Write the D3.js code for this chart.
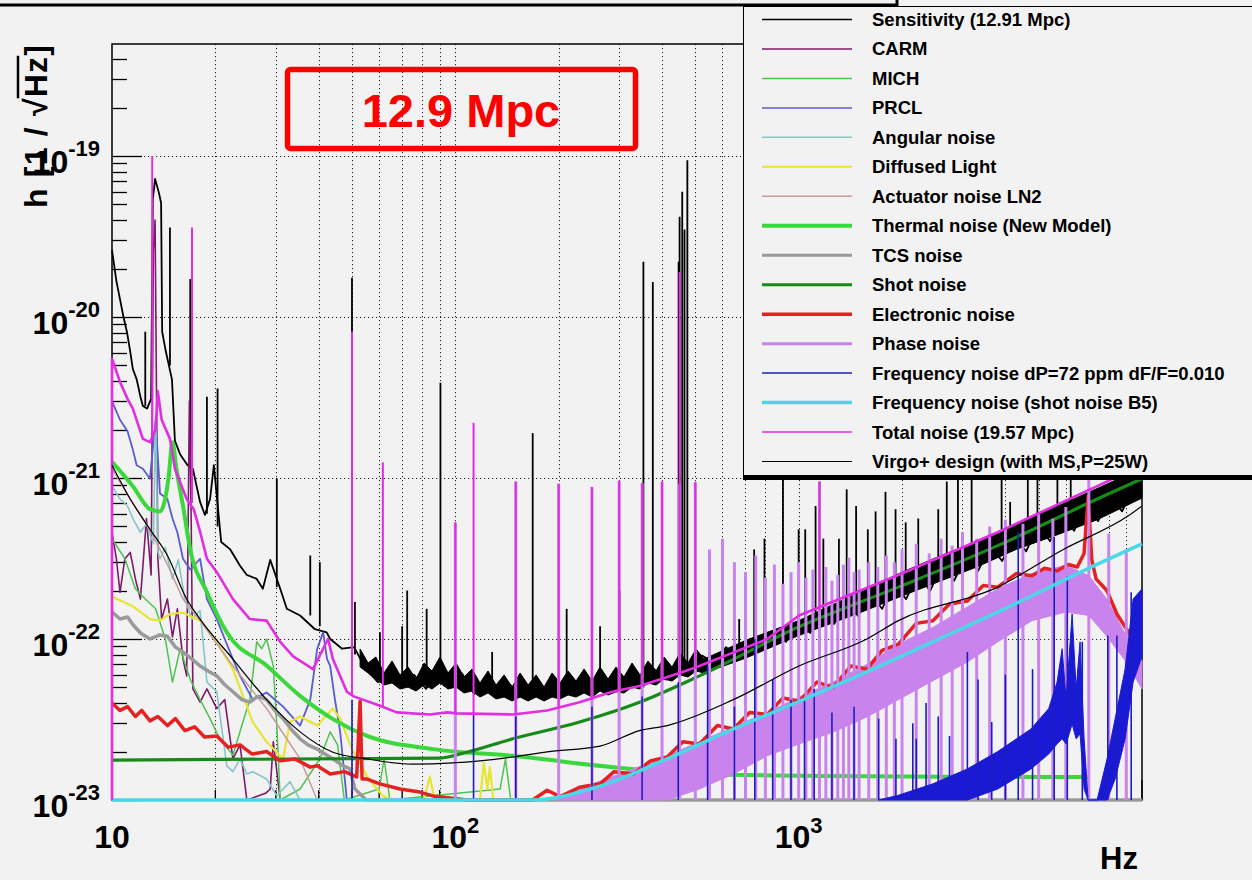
<!DOCTYPE html>
<html>
<head>
<meta charset="utf-8">
<script src="https://cdn.jsdelivr.net/npm/d3@7/dist/d3.min.js"></script>
<style>
html,body{margin:0;padding:0;background:#f2f2f2;overflow:hidden;}
svg{display:block;}
text{font-family:"Liberation Sans",Arial,Helvetica,sans-serif;font-weight:bold;}
</style>
</head>
<body>
<svg id="chart" width="1252" height="880"></svg>
<script>
// ---------------- DATA (frequency in Hz, strain h in 1/sqrt(Hz)) ----------------
const freqDomain = [10, 10000];
const strainDomain = [1e-23, 4.96e-19];
const floorValue = 1e-23;
const yDecadeExps = [-23, -22, -21, -20, -19];
const xDecadeExps = [1, 2, 3];
const xAxisTitle = "Hz";
const yAxisTitle = "h [1 / √Hz]";
const titleText = "12.9 Mpc";

const legendLabels = ["Sensitivity (12.91 Mpc)","CARM","MICH","PRCL","Angular noise","Diffused Light",
  "Actuator noise LN2","Thermal noise (New Model)","TCS noise","Shot noise","Electronic noise","Phase noise",
  "Frequency noise dP=72 ppm dF/F=0.010","Frequency noise (shot noise B5)","Total noise (19.57 Mpc)",
  "Virgo+ design (with MS,P=25W)"];

// measured sensitivity (noisy floor)
const sensitivity = [[10,2.6e-20],[10.3,1.67e-20],[10.55,1.29e-20],[10.8,1.0e-20],[11.05,8.1e-21],[11.3,6.1e-21],[11.5,4.75e-21],[11.8,4.1e-21],[12.1,3.2e-21],[12.3,2.8e-21],[12.65,2.7e-21],[13.0,3.1e-21],[13.15,5.4e-20],[13.35,7.2e-20],[13.5,6.6e-20],[13.7,5.9e-20],[13.9,5.1e-20],[14.0,8.1e-21],[14.35,6.1e-21],[14.95,4.1e-21],[15.25,1.7e-21],[15.8,1.4e-21],[16.6,1.2e-21],[17.2,1.14e-21],[18.05,7.1e-22],[18.65,5.9e-22],[19.3,7.4e-22],[19.8,1.2e-21],[20.8,4.0e-22],[22.1,3.6e-22],[23.6,2.85e-22],[24.7,2.5e-22],[26.4,2.36e-22],[27.5,2.05e-22],[28.9,3.1e-22],[30.9,2.05e-22],[32.3,1.54e-22],[35.3,1.4e-22],[39,1.15e-22],[42.2,1.1e-22],[43.2,1.0e-22],[46.8,8.7e-23],[50.7,8.9e-23],[54.9,6.5e-23],[59.5,5.4e-23],[64.5,5.8e-23],[69.9,5.0e-23],[75.8,6.0e-23],[82.2,4.9e-23],[89.1,6.7e-23],[96.6,5.5e-23],[104.6,6.1e-23],[113.4,4.55e-23],[122.9,5.3e-23],[133.2,4.5e-23],[144.3,5.2e-23],[156.4,4.4e-23],[169.6,5.3e-23],[183.8,4.4e-23],[199.2,5.2e-23],[215.9,4.9e-23],[234,5.6e-23],[253.6,4.75e-23],[274.8,5.6e-23],[297.9,4.9e-23],[322.8,6.0e-23],[349.9,5.2e-23],[379.2,6.5e-23],[411,5.6e-23],[445.5,7.1e-23],[482.8,6.3e-23],[523.3,7.9e-23],[567.2,7.1e-23],[614.6,8.9e-23],[666.2,7.8e-23],[722.1,1.0e-22],[782.5,8.7e-23],[848.2,1.12e-22],[919.1,9.6e-23],[996,1.29e-22],[1080,1.09e-22],[1170,1.49e-22],[1268,1.24e-22],[1375,1.7e-22],[1489,1.39e-22],[1614,1.9e-22],[1750,1.54e-22],[1896,2.2e-22],[2055,1.77e-22],[2228,2.55e-22],[2414,1.99e-22],[2617,2.87e-22],[2836,2.3e-22],[3073,3.3e-22],[3332,2.65e-22],[3610,3.8e-22],[3913,3.05e-22],[4241,4.4e-22],[4597,3.5e-22],[4982,5.1e-22],[5400,4.05e-22],[5852,5.8e-22],[6342,4.7e-22],[6873,6.7e-22],[7450,5.4e-22],[8073,7.7e-22],[8750,6.2e-22],[9484,8.9e-22],[10000,7.95e-22]];
// [freq, upper, lower] dense ragged part of the measured sensitivity
const sensitivityBand = [[52.8,8.67e-23,6.7e-23],[55.7,7.09e-23,6.15e-23],[58.7,7.73e-23,5.64e-23],[62.0,6.15e-23,5.18e-23],[65.4,7.30e-23,5.33e-23],[69.0,5.98e-23,4.89e-23],[72.8,6.70e-23,5.03e-23],[76.8,5.64e-23,4.75e-23],[81.1,7.09e-23,5.18e-23],[85.5,6.33e-23,4.89e-23],[90.2,7.73e-23,5.33e-23],[95.2,6.15e-23,4.89e-23],[100.5,7.09e-23,5.03e-23],[106,5.81e-23,4.62e-23],[111.8,6.51e-23,4.75e-23],[118,5.33e-23,4.36e-23],[124.5,6.33e-23,4.62e-23],[131.4,5.18e-23,4.24e-23],[138.7,5.98e-23,4.36e-23],[146.3,5.03e-23,4.12e-23],[154.4,6.15e-23,4.36e-23],[162.9,5.18e-23,4.12e-23],[171.9,5.98e-23,4.36e-23],[181.3,5.03e-23,4.12e-23],[191.3,6.15e-23,4.36e-23],[201.8,5.33e-23,4.24e-23],[213,6.33e-23,4.49e-23],[224.7,5.48e-23,4.36e-23],[237.1,6.51e-23,4.62e-23],[250.2,5.48e-23,4.36e-23],[263.9,6.70e-23,4.75e-23],[278.5,5.64e-23,4.49e-23],[293.8,6.70e-23,4.7e-23],[310,5.81e-23,4.62e-23],[327.1,7.09e-23,5.03e-23],[345.1,5.98e-23,4.89e-23],[364.1,7.30e-23,5.33e-23],[384.2,6.33e-23,5.18e-23],[405.4,7.73e-23,5.64e-23],[427.7,6.70e-23,5.48e-23],[451.3,8.18e-23,5.98e-23],[476.2,7.09e-23,5.81e-23],[502.4,8.67e-23,6.33e-23],[530.1,7.51e-23,6.15e-23],[700,9.8e-23,7.6e-23],[1000,1.3e-22,1.05e-22],[1500,1.95e-22,1.45e-22],[2000,2.6e-22,1.85e-22],[2600,3.3e-22,2.3e-22],[3300,4.0e-22,2.8e-22],[4300,5.2e-22,3.6e-22],[5600,6.6e-22,4.4e-22],[7400,8.6e-22,5.5e-22],[10000,1.15e-21,7.5e-22]];
// [freq, base, peak] narrow lines of the measured sensitivity
const sensitivityPeaks = [[12.5,2.8e-21,8.1e-21],[14.75,5e-21,3.6e-20],[16.9,1.2e-21,1.72e-20],[18.9,6e-22,3.2e-21],[20.3,5e-22,3.6e-21],[30.2,2.1e-22,9.9e-22],[37.8,1.4e-22,3.3e-22],[40.3,1.2e-22,3.0e-22],[50,9e-23,1.75e-20],[51,8e-23,1.7e-22],[60.3,5.5e-23,1.1e-22],[70,5e-23,1.2e-22],[72.4,5e-23,2.0e-22],[82.5,5e-23,1.54e-22],[90.5,6e-23,3.9e-21],[128,5e-23,8.3e-23],[168,5e-23,1.9e-21],[211,5e-23,1.54e-22],[264,5e-23,1.2e-22],[301,5e-23,2.0e-22],[353,5e-23,2.2e-20],[376,6e-23,1.65e-20],[447,6e-23,2.2e-20],[450,6e-23,4.2e-20],[458,6e-23,6.0e-20],[465,6e-23,3.5e-20],[474,6e-23,9.4e-20],[550,7e-23,1.3e-22],[671,8e-23,1.33e-22],[742,9e-23,3.6e-22],[795,1e-22,4.2e-22],[900,1.1e-22,1.14e-21],[1000,1.2e-22,4.8e-22],[1045,1.3e-22,4.8e-22],[1120,1.4e-22,6.7e-22],[1180,1.5e-22,4.2e-22],[1310,1.6e-22,4.2e-22],[1380,1.7e-22,8.5e-22],[1470,1.8e-22,6.7e-22],[1590,1.9e-22,4.8e-22],[1675,2e-22,6.2e-22],[1790,2.1e-22,8.2e-22],[1915,2.2e-22,6.4e-22],[2050,2.3e-22,5.3e-22],[2230,2.5e-22,5.6e-22],[2550,2.8e-22,6.4e-22],[2700,3e-22,9.5e-22],[2910,3.2e-22,1.1e-21],[3190,3.4e-22,1.1e-21],[3900,4e-22,1.8e-21],[4130,4.2e-22,7.1e-22],[4650,4.6e-22,1.5e-21],[4960,4.8e-22,1.5e-21],[5670,5.5e-22,1.5e-21],[6200,6e-22,1.2e-21]];

const carm = [[10,4.6e-22],[10.3,3.15e-22],[10.55,1.95e-22],[10.9,3.15e-22],[11.3,3.45e-22],[11.7,2.36e-22],[12.1,1.77e-22],[12.6,5.6e-22],[13.0,2.5e-22],[13.2,2.6e-20],[13.35,4.0e-20],[13.6,3.15e-22],[13.95,1.33e-22],[14.5,1.77e-22],[15,1.03e-22],[15.5,1.54e-22],[16.1,7.5e-23],[16.5,5.9e-23],[16.8,3.0e-21],[17.0,6.0e-22],[17.2,4.9e-23],[18.05,4.05e-23],[18.9,4.9e-23],[20.2,3.7e-23],[21.3,4.2e-23],[22.5,1.8e-23],[23.6,2.2e-23],[24.7,1.0e-23],[28.0,1.1e-23],[28.9,1.17e-23],[29.5,2.3e-23],[30.9,1.0e-23],[35,8e-24],[60,8e-24]];

const mich = [[10,4.2e-22],[10.9,3.15e-22],[11.7,2.05e-22],[12.5,1.77e-22],[13.4,1.54e-22],[14.3,1.0e-22],[15.0,5.4e-23],[15.8,8.7e-23],[16.9,5.6e-23],[18.05,4.2e-23],[19.3,3.2e-23],[20.6,2.4e-23],[22.5,1.9e-23],[24,3.0e-23],[25.2,4.2e-23],[26.4,9.6e-23],[27.3,8.7e-23],[28.2,1.0e-22],[29.5,6.8e-23],[30.2,2.9e-23],[30.9,1.0e-23],[35.3,1.17e-23],[40.3,1.8e-23],[43.2,2.65e-23],[45.4,2.2e-23],[47.5,1.0e-23],[60,1.17e-23],[62,1.8e-23],[64.5,1.0e-23],[135,1.17e-23],[140,1.8e-23],[145,1.0e-23],[200,8e-24]];

const prcl = [[10,3.0e-21],[10.55,2.3e-21],[11.1,1.95e-21],[11.5,1.5e-21],[11.8,1.2e-21],[12.3,1.14e-21],[12.9,9.9e-22],[13.4,2.3e-21],[13.8,8.0e-22],[14.5,7.4e-22],[15,5.6e-22],[15.5,4.6e-22],[16.1,3.15e-22],[16.9,2.7e-22],[18.05,3.15e-22],[18.9,1.77e-22],[20.2,1.33e-22],[21.3,1.0e-22],[22.5,7.5e-23],[23.6,5.9e-23],[25.7,4.2e-23],[28.2,4.65e-23],[31.5,3.8e-23],[35.3,2.9e-23],[37.8,4.2e-23],[39.6,8.7e-23],[41.2,1.1e-22],[42.3,7.5e-23],[43.2,6.8e-23],[44.6,4.2e-23],[46.2,2.65e-23],[48.3,1.0e-23],[55,8e-24],[100,8e-24]];

const angular = [[10,8.9e-22],[10.55,7.4e-22],[11.1,6.7e-22],[11.5,5.6e-22],[12.1,4.6e-22],[12.6,5.2e-22],[13.2,3.9e-22],[13.4,2.5e-21],[13.6,3.5e-22],[13.8,3.15e-22],[14.3,3.7e-22],[15,2.36e-22],[15.6,3.1e-22],[16.3,1.77e-22],[17.1,1.33e-22],[18.05,1.5e-22],[18.9,5.4e-23],[20.2,4.7e-23],[21.6,1.63e-23],[22.5,1.5e-23],[23.6,1.8e-23],[24.7,1.45e-23],[25.7,1.5e-23],[28.2,1.35e-23],[30.2,1.06e-23],[33,1.3e-23],[35.3,1.0e-23],[40,8e-24],[100,8e-24]];

const diffusedLight = [[10,1.85e-22],[10.35,1.77e-22],[11.5,1.6e-22],[12.9,1.33e-22],[13.8,1.3e-22],[14.75,1.43e-22],[16.1,1.46e-22],[18.05,1.3e-22],[20.2,9.6e-23],[22.5,6.5e-23],[25.7,3.05e-23],[28.2,2.3e-23],[31.5,1.8e-23],[33,3.05e-23],[35.3,3.3e-23],[39.6,2.9e-23],[44,3.7e-23],[46.2,3.2e-23],[50,2.07e-23],[54,1.56e-23],[55.3,1.4e-23],[61.5,1.06e-23],[66,1.0e-23],[81,1.0e-23],[84.3,1.4e-23],[87,1.0e-23],[118,1.0e-23],[121,1.7e-23],[124,1.17e-23],[126,1.6e-23],[129,1.0e-23],[140,8e-24],[300,8e-24]];

const actuatorLN2 = [[10,1.14e-21],[11.3,7.4e-22],[12.9,4.8e-22],[14.5,2.9e-22],[16.1,1.77e-22],[18.05,1.3e-22],[22.5,6.8e-23],[28.2,3.7e-23],[35.3,1.8e-23],[39.6,1.0e-23],[45,8e-24]];

const thermal = [[10,1.26e-21],[11.5,8.9e-22],[12.9,6.4e-22],[13.8,6.2e-22],[14.3,7.5e-22],[14.6,9.9e-22],[15.0,1.67e-21],[15.4,1.14e-21],[16.1,6.7e-22],[16.9,3.6e-22],[18.9,1.96e-22],[21.6,1.1e-22],[28.3,6.8e-23],[35.3,4.43e-23],[44,3.18e-23],[55.3,2.5e-23],[86,2.07e-23],[147,1.88e-23],[288,1.6e-23],[517,1.45e-23],[1259,1.41e-23],[3900,1.39e-23],[7000,1.39e-23]];

const tcs = [[10,1.47e-22],[10.55,1.33e-22],[11.1,1.37e-22],[11.5,1.23e-22],[12.1,1.09e-22],[12.9,1.0e-22],[13.8,1.06e-22],[14.5,1.04e-22],[15.3,8.9e-23],[16.1,8.3e-23],[17.1,7.5e-23],[18.05,6.8e-23],[19.1,6.3e-23],[20.2,5.9e-23],[21.3,5.2e-23],[22.5,4.7e-23],[23.9,4.2e-23],[25.2,4.05e-23],[26.6,4.4e-23],[28.2,4.2e-23],[29.8,3.6e-23],[31.5,3.2e-23],[33.5,2.7e-23],[35.3,2.4e-23],[37.2,2.2e-23],[39.6,2.07e-23],[41.7,1.93e-23],[44,1.8e-23],[46.7,1.65e-23],[49.3,1.56e-23],[51,1.17e-23],[55,8e-24],[10000,8e-24]];

const shotNoise = [[10,1.77e-23],[90,1.82e-23],[108,1.98e-23],[147,2.4e-23],[230,3.05e-23],[344,4.05e-23],[514,5.9e-23],[1002,1.19e-22],[1952,2.1e-22],[3800,3.8e-22],[7402,7.4e-22],[10000,9.9e-22]];

const electronic = [[10,4.0e-23],[10.55,3.6e-23],[11.1,3.8e-23],[11.7,3.3e-23],[12.2,3.6e-23],[12.9,3.1e-23],[13.6,3.3e-23],[14.5,2.9e-23],[15.3,3.2e-23],[16.3,2.7e-23],[17.4,2.85e-23],[18.6,2.46e-23],[20.2,2.5e-23],[21.8,2.13e-23],[23.6,2.2e-23],[25.6,1.93e-23],[28.2,2.0e-23],[30.9,1.75e-23],[34.1,1.8e-23],[37.8,1.6e-23],[39.6,1.63e-23],[43.2,1.45e-23],[47.6,1.5e-23],[51.6,1.39e-23],[52.8,4.1e-23],[53.5,1.35e-23],[55.3,1.35e-23],[60.3,1.26e-23],[69,1.17e-23],[78.8,1.12e-23],[86,1.06e-23],[108,1.0e-23],[120,8e-24],[150,8e-24],[168,1.0e-23],[185,1.15e-23],[202,1.05e-23],[230,1.2e-23],[264,1.26e-23],[290,1.5e-23],[330,1.45e-23],[370,1.75e-23],[414,1.85e-23],[460,2.3e-23],[514,2.23e-23],[580,2.9e-23],[645,2.76e-23],[720,3.5e-23],[810,3.4e-23],[900,4.3e-23],[1002,4.1e-23],[1130,5.4e-23],[1260,5.0e-23],[1420,6.8e-23],[1580,6.5e-23],[1750,8.5e-23],[1952,9.3e-23],[2200,1.25e-22],[2460,1.3e-22],[2750,1.65e-22],[3100,1.72e-22],[3450,2.15e-22],[3800,2.1e-22],[4300,2.55e-22],[4780,2.47e-22],[5200,2.75e-22],[5670,2.65e-22],[6100,2.9e-22],[6478,2.8e-22],[6780,3.4e-22],[6970,7.7e-22],[7140,3.1e-22],[7350,2.36e-22],[7900,2.0e-22],[8450,1.43e-22],[9300,1.04e-22],[10000,1.0e-22]];

// [freq, upper, lower]
const phaseBand = [[197,1e-23,1e-23],[230,1.17e-23,1e-23],[264,1.31e-23,1e-23],[330,1.56e-23,1e-23],[414,1.88e-23,1e-23],[514,2.3e-23,1.17e-23],[645,2.84e-23,1.45e-23],[810,3.5e-23,1.88e-23],[1002,4.35e-23,2.23e-23],[1260,5.4e-23,2.64e-23],[1580,6.95e-23,3.28e-23],[1952,9.3e-23,4.2e-23],[2460,1.18e-22,5.5e-23],[3100,1.58e-22,7.2e-23],[3800,2.05e-22,9.6e-23],[4780,2.55e-22,1.3e-22],[6000,2.87e-22,1.47e-22],[7000,2.47e-22,1.4e-22],[7900,1.77e-22,1.04e-22],[9000,1.04e-22,7.2e-23],[10000,7.3e-23,4.9e-23]];
const phaseLines = [[100,5.3e-22],[150,9.5e-22],[200,9.2e-22],[250,8.8e-22],[300,9.6e-22],[350,9.3e-22],[400,9.5e-22],[450,9.2e-22],[500,9.4e-22],[550,3.6e-22],[600,4.2e-22],[650,3.0e-22],[700,2.6e-22],[750,3.3e-22],[800,2.4e-22],[850,2.9e-22],[900,2.2e-22],[950,2.6e-22],[1000,3.0e-22],[1050,2.4e-22],[1100,2.7e-22],[1150,9.5e-22],[1200,2.8e-22],[1250,2.3e-22],[1300,2.5e-22],[1350,2.9e-22],[1400,3.2e-22],[1450,2.6e-22],[1500,2.7e-22],[1600,3.0e-22],[1700,2.8e-22],[1800,3.3e-22],[1900,3.0e-22],[2000,3.6e-22],[2200,3.9e-22],[2400,3.4e-22],[2600,4.2e-22],[2800,3.8e-22],[3000,4.6e-22],[3300,4.2e-22],[3600,5.0e-22],[4000,5.5e-22],[4500,5.2e-22],[5000,6.0e-22],[5500,5.6e-22],[6000,6.6e-22],[7000,1.0e-21],[8000,4.5e-22],[9000,3.5e-22]];

const freqDPLines = [[50,4.2e-23],[113,3.5e-23],[150,3.3e-23],[250,3.8e-23],[350,4.4e-23],[446,5.4e-23],[543,6.8e-23],[650,3.8e-23],[745,1.0e-22],[840,5.6e-23],[950,4.2e-23],[1040,4.2e-23],[1110,4.9e-23],[1250,3.5e-23],[1450,3.8e-23],[1710,3.2e-23],[1920,2.4e-23],[2150,3.0e-23],[2200,2.4e-23],[2350,4.0e-23],[2550,3.3e-23],[2750,2.5e-23],[3100,8.3e-23],[3330,5.6e-23],[3650,3.05e-23],[4000,6.0e-23],[4360,4.6e-22],[4800,6.5e-23],[5550,4.3e-22],[6060,2.45e-22],[6700,9.6e-23],[7950,1.05e-22],[8450,1.05e-22],[9300,1.95e-22]];
const freqDPBand = [[1710,1e-23,1e-23],[1952,1.07e-23,1e-23],[2460,1.26e-23,1e-23],[3100,1.56e-23,1e-23],[3800,2.0e-23,1.17e-23],[4750,2.76e-23,1.56e-23],[5350,3.7e-23,1.93e-23],[5658,5.4e-23,2.23e-23],[5853,8.7e-23,2.4e-23],[6011,4.2e-23,2.23e-23],[6258,1.43e-22,2.96e-23],[6430,4.9e-23,2.4e-23],[6601,9.6e-23,2.57e-23],[6782,2.4e-23,1.17e-23],[6966,1e-23,1e-23],[7400,1e-23,1e-23],[7910,1.8e-23,1e-23],[8352,3.2e-23,1.35e-23],[8930,6.5e-23,2.4e-23],[9422,1.77e-22,5.4e-23],[10000,2.05e-22,7.8e-23]];

const freqShotB5 = [[10,4e-24],[150,9.5e-24],[168,1.0e-23],[264,1.22e-23],[414,1.8e-23],[645,2.76e-23],[1010,4.12e-23],[1580,6.24e-23],[2460,9.6e-23],[3800,1.47e-22],[7640,3.0e-22],[10000,3.9e-22]];

const totalNoise = [[10,1e-24],[10,5.5e-21],[10.55,3.95e-21],[11.1,3.1e-21],[11.5,2.7e-21],[12.3,1.75e-21],[12.9,1.67e-21],[13.4,2.0e-21],[13.6,3.45e-21],[13.95,2.3e-21],[14.75,1.75e-21],[15.25,1.14e-21],[16.5,7.4e-22],[17.3,6.4e-22],[18.05,4.65e-22],[18.9,3.15e-22],[20.2,2.6e-22],[22.5,1.77e-22],[25.2,1.33e-22],[28.2,1.3e-22],[30.9,9.6e-23],[33.7,7.8e-23],[38.5,6.5e-23],[41.2,8.7e-23],[42.6,1.0e-22],[44,7.5e-23],[48.3,4.7e-23],[50.6,4.4e-23],[60.3,3.85e-23],[67.5,3.5e-23],[84.3,3.4e-23],[94.5,3.5e-23],[101,3.45e-23],[147,3.4e-23],[185,3.6e-23],[230,4.05e-23],[286,4.7e-23],[344,5.1e-23],[455,6.2e-23],[514,6.8e-23],[810,1.0e-22],[1002,1.4e-22],[1952,2.5e-22],[3800,4.6e-22],[7402,8.9e-22],[10000,1.2e-21]];
const totalNoisePeaks = [[13.1,1.7e-21,1.0e-19],[17.1,7e-22,3.6e-20],[50,4.5e-23,8.1e-21],[61.5,3.8e-23,1.25e-21],[100,3.45e-23,5.3e-22],[113,3.4e-23,2.2e-21],[150,3.4e-23,9.5e-22],[200,3.8e-23,9.2e-22],[250,4.2e-23,8.8e-22],[300,4.8e-23,9.6e-22],[350,5.1e-23,9.3e-22],[400,5.5e-23,9.5e-22],[450,6e-23,1.9e-20],[500,6.6e-23,9.4e-22],[1150,1.5e-22,9.5e-22]];

const virgoDesign = [[10,1.2e-21],[11.3,7.4e-22],[12.9,4.8e-22],[14.5,3.3e-22],[16.5,1.77e-22],[18.05,1.33e-22],[22.5,7.5e-23],[28.2,4.2e-23],[35.3,2.65e-23],[44,1.98e-23],[55.3,1.8e-23],[75,1.67e-23],[98.5,1.7e-23],[147,1.85e-23],[185,1.99e-23],[264,2.16e-23],[344,2.7e-23],[414,2.9e-23],[645,4.2e-23],[1002,6.8e-23],[1580,1.0e-22],[1952,1.3e-22],[3800,2.1e-22],[5900,3.6e-22],[9100,5.8e-22],[10000,6.7e-22]];

// ---------------- STYLES ----------------
const legendColors = ["#000000","#7b1b6b","#4fc24f","#5b5bd0","#86c6c6","#e6e632","#c79b9b","#3ad83a","#9a9a9a","#178a17","#e02222","#c884ec","#1c1cc8","#4ad8e6","#e02ee0","#000000"];
const legendWidths = [1.5,1.5,1.5,1.5,1.5,2,1.5,4,3,3,3.5,3,1.5,3.5,1.5,1.2];

// ---------------- DRAW ----------------
const svg = d3.select("#chart");
svg.append("rect").attr("width",1252).attr("height",880).attr("fill","#f2f2f2");

const x = d3.scaleLog().domain(freqDomain).range([112,1142]);
const y = d3.scaleLog().domain(strainDomain).range([800,44]).clamp(true);
const isDecade = v => Math.abs(Math.log10(v) - Math.round(Math.log10(v))) < 1e-6;

svg.append("path").attr("d","M0,5H897V0").attr("fill","none").attr("stroke","#000").attr("stroke-width",3);

// grid
const grid = svg.append("g").attr("stroke","#222").attr("stroke-width",1).attr("stroke-dasharray","1.2,2.8");
grid.selectAll("line.gx").data(x.ticks().filter(v => v > 10 && v < 10000)).join("line").attr("class","gx")
  .attr("x1",d=>Math.round(x(d))+0.5).attr("x2",d=>Math.round(x(d))+0.5).attr("y1",44).attr("y2",800);
grid.selectAll("line.gy").data(y.ticks().filter(v => isDecade(v) && v > 1.01e-23)).join("line").attr("class","gy")
  .attr("x1",112).attr("x2",1142).attr("y1",d=>Math.round(y(d))+0.5).attr("y2",d=>Math.round(y(d))+0.5);

// frame & ticks
svg.append("rect").attr("x",112).attr("y",44).attr("width",1030).attr("height",756)
  .attr("fill","none").attr("stroke","#000").attr("stroke-width",1.5);
const ax = svg.append("g").attr("stroke","#000").attr("stroke-width",1.3);
ax.selectAll("line.ty").data(y.ticks()).join("line").attr("class","ty")
  .attr("x1",112).attr("x2",d=>112+(isDecade(d)?30:15))
  .attr("y1",d=>Math.round(y(d))+0.5).attr("y2",d=>Math.round(y(d))+0.5);
ax.selectAll("line.tx").data(x.ticks()).join("line").attr("class","tx")
  .attr("x1",d=>x(d)).attr("x2",d=>x(d))
  .attr("y1",800).attr("y2",d=>800-(isDecade(d)?20:10));

// helpers
const plot = svg.append("g");
function drawLine(data, color, width, curve){
  plot.append("path").datum(data).attr("fill","none").attr("stroke",color).attr("stroke-width",width)
    .attr("stroke-linejoin","round")
    .attr("d", d3.line().x(d=>x(d[0])).y(d=>y(d[1])).curve(curve || d3.curveLinear));
}
function drawBand(data, color){
  plot.append("path").datum(data).attr("fill",color).attr("stroke",color).attr("stroke-width",1)
    .attr("d", d3.area().x(d=>x(d[0])).y0(d=>y(d[2])).y1(d=>y(d[1])));
}
function drawSpikes(data, color, width){
  plot.append("g").selectAll("line").data(data).join("line")
    .attr("x1",d=>x(d[0])).attr("x2",d=>x(d[0]))
    .attr("y1",y(floorValue)).attr("y2",d=>y(d[1]))
    .attr("stroke",color).attr("stroke-width",width);
}
function drawPeaks(data, color, width){
  plot.append("g").selectAll("line").data(data).join("line")
    .attr("x1",d=>x(d[0])).attr("x2",d=>x(d[0]))
    .attr("y1",d=>y(d[1])).attr("y2",d=>y(d[2]))
    .attr("stroke",color).attr("stroke-width",width);
}

drawBand(sensitivityBand, "#000");
drawLine(sensitivity, "#000", 1.8);
drawPeaks(sensitivityPeaks, "#000", 1.8);
drawLine(carm, "#7b1b6b", 1.6);
drawLine(mich, "#4fc24f", 1.5);
drawLine(prcl, "#5b5bd0", 1.8);
drawLine(angular, "#86c6c6", 1.6);
drawLine(diffusedLight, "#e6e632", 2.2);
drawLine(actuatorLN2, "#c79b9b", 1.5);
drawLine(thermal, "#3ad83a", 4, d3.curveMonotoneX);
drawLine(tcs, "#9a9a9a", 3.5);
drawLine(shotNoise, "#178a17", 3.2, d3.curveMonotoneX);
drawBand(phaseBand, "#c884ec");
drawLine(electronic, "#e52222", 3.5);
drawSpikes(phaseLines, "#c884ec", 3);
drawBand(freqDPBand, "#1a1ad4");
drawSpikes(freqDPLines, "#1c1cc0", 1.6);
drawLine(freqShotB5, "#4ad8e6", 3.5, d3.curveMonotoneX);
drawLine(totalNoise, "#e02ee0", 2.6);
drawPeaks(totalNoisePeaks, "#e02ee0", 2);
drawLine(virgoDesign, "#000", 1.2, d3.curveMonotoneX);

// y tick labels
yDecadeExps.forEach(e => {
  const yy = y(Math.pow(10, e));
  const t = svg.append("text").attr("x",100).attr("y",yy+17).attr("text-anchor","end")
    .attr("font-size",32).attr("fill","#000");
  t.append("tspan").text("10");
  t.append("tspan").attr("font-size",22).attr("dy",-17).text(String(e));
});
// x tick labels
xDecadeExps.forEach(e => {
  const xx = x(Math.pow(10, e));
  const t = svg.append("text").attr("x",xx).attr("y",848).attr("text-anchor","middle")
    .attr("font-size",32).attr("fill","#000");
  t.append("tspan").text("10");
  if (e !== 1) t.append("tspan").attr("font-size",22).attr("dy",-15).text(String(e));
});
svg.append("text").attr("x",1138).attr("y",869).attr("text-anchor","end").attr("font-size",31).text(xAxisTitle);

// y axis title
const yt = svg.append("g").attr("transform","translate(47,208) rotate(-90)");
const ytxt = yt.append("text").attr("x",0).attr("y",0).attr("font-size",32).attr("letter-spacing",1.2).text(yAxisTitle);
const tn = ytxt.node();
const idx = yAxisTitle.indexOf("√");
const s0 = tn.getEndPositionOfChar(idx).x - 1;
const s1 = tn.getEndPositionOfChar(idx+2).x;
yt.append("line").attr("x1",s0).attr("x2",s1).attr("y1",-29).attr("y2",-29).attr("stroke","#000").attr("stroke-width",2.5);

// title box
svg.append("rect").attr("x",287.5).attr("y",69.5).attr("width",348).attr("height",79).attr("rx",3)
  .attr("fill","none").attr("stroke","#ff0000").attr("stroke-width",5.5);
svg.append("text").attr("x",461).attr("y",127).attr("text-anchor","middle").attr("font-size",47)
  .attr("fill","#ff0000").text(titleText);

// legend
const lg = svg.append("g");
lg.append("rect").attr("x",743.5).attr("y",6.5).attr("width",560).attr("height",469)
  .attr("fill","#f2f2f2").attr("stroke","#000").attr("stroke-width",1);
lg.append("rect").attr("x",743).attr("y",475).attr("width",560).attr("height",5).attr("fill","#000");
const rowY = d3.scaleLinear().domain([0, legendLabels.length-1]).range([26, 468]);
legendLabels.forEach((lab,i) => {
  const by = rowY(i);
  lg.append("line").attr("x1",762).attr("x2",852).attr("y1",by-6.5).attr("y2",by-6.5)
    .attr("stroke",legendColors[i]).attr("stroke-width",legendWidths[i]);
  lg.append("text").attr("x",872).attr("y",by).attr("font-size",18.5).attr("fill","#000").text(lab);
});
</script>
</body>
</html>
